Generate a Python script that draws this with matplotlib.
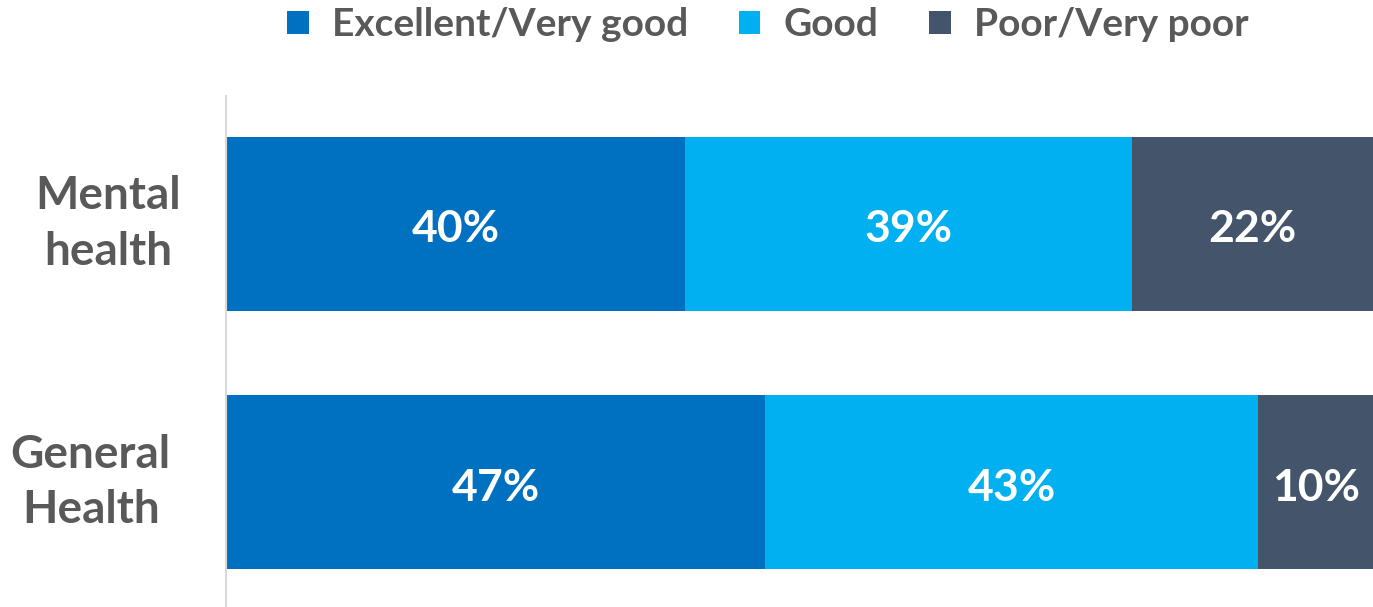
import matplotlib
matplotlib.use("Agg")
import matplotlib.pyplot as plt
import numpy as np

plt.rcParams['font.family'] = ['Lato', 'DejaVu Sans']
plt.rcParams['font.weight'] = 'bold'

# rows from bottom to top
categories = ["General\nHealth", "Mental\nhealth"]
series = ["Excellent/Very good", "Good", "Poor/Very poor"]
excellent = [47, 40]
good = [43, 39]
poor = [10, 22]
colors = ["#0070C0", "#00B0F0", "#44546A"]
grey = "#595959"

fig = plt.figure(figsize=(13.73, 6.07), dpi=100)
ax = fig.add_axes([226 / 1373, 0.0, 1 - 226 / 1373, 511 / 607])

y = np.arange(len(categories))
left = np.zeros(len(categories))
for name, vals, col in zip(series, [excellent, good, poor], colors):
    bars = ax.barh(y, vals, left=left, height=0.673, color=col, label=name)
    anns = ax.bar_label(bars, labels=[f"{v}%" for v in vals], label_type='center',
                        color='white', fontsize=32, fontweight='bold')
    for a in anns:
        a.xyann = (0, -4)
    left += np.array(vals)

ax.set_xlim(0, 100)
ax.set_ylim(-0.482, 1.495)
ax.set_yticks(y)
ax.set_yticklabels([])
ax.tick_params(axis='y', length=0)
ax.set_xticks([])

# category names, each block centred on its own column
label_x = [-0.118, -0.103]
for yi, lab, lx in zip(y, categories, label_x):
    ax.text(lx, yi, lab, transform=ax.get_yaxis_transform(), fontsize=33,
            color=grey, fontweight='bold', ha='center', va='center',
            linespacing=1.4)

for s in ['top', 'right', 'bottom']:
    ax.spines[s].set_visible(False)
ax.spines['left'].set_color('#D9D9D9')
ax.spines['left'].set_linewidth(1.5)

leg = fig.legend(loc='center', bbox_to_anchor=(768 / 1373, 1 - 25 / 607), ncol=3,
                 frameon=False, fontsize=28, handlelength=0.55, handleheight=0.55,
                 handletextpad=0.6, columnspacing=1.3)
for t in leg.get_texts():
    t.set_color(grey)
    t.set_fontweight('bold')

fig.savefig("out.png", dpi=100)
